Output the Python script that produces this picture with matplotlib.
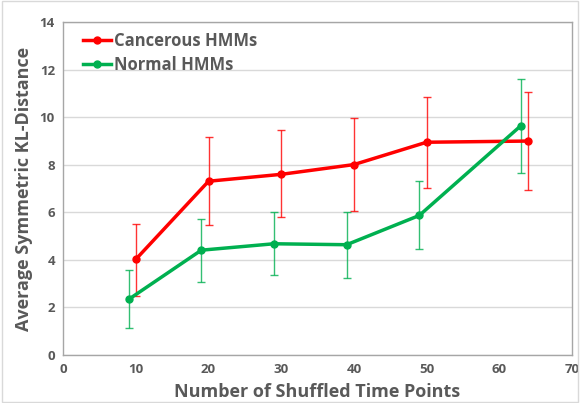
import matplotlib.pyplot as plt
from matplotlib.patches import Rectangle

# 数据
cancer_x = [10, 20, 30, 40, 50, 64]
cancer_y = [4.03, 7.31, 7.6, 8.01, 8.95, 9.0]
cancer_lo = [2.48, 5.45, 5.79, 6.05, 7.03, 6.95]
cancer_hi = [5.53, 9.16, 9.45, 9.97, 10.87, 11.08]

normal_x = [9, 19, 29, 39, 49, 63]
normal_y = [2.34, 4.41, 4.68, 4.64, 5.87, 9.65]
normal_lo = [1.12, 3.07, 3.36, 3.24, 4.44, 7.65]
normal_hi = [3.56, 5.73, 6.0, 6.02, 7.31, 11.63]

x_ticks = [0, 10, 20, 30, 40, 50, 60, 70]
y_ticks = [0, 2, 4, 6, 8, 10, 12, 14]

text_gray = "#595959"
plt.rcParams['font.family'] = ['Open Sans', 'DejaVu Sans']

fig = plt.figure(figsize=(5.8, 4.03), dpi=100)
ax = fig.add_axes([0.109, 0.119, 0.877, 0.826])

def draw(x, y, lo, hi, color, label):
    yerr = [[v - l for v, l in zip(y, lo)], [h - v for v, h in zip(y, hi)]]
    ax.errorbar(x, y, yerr=yerr, fmt="none", ecolor=color, elinewidth=1,
                capsize=3, capthick=1, alpha=0.8, zorder=3)
    ax.plot(x, y, color=color, linewidth=2.5, marker="o", markersize=5,
            label=label, zorder=4)

draw(cancer_x, cancer_y, cancer_lo, cancer_hi, "#ff0000", "Cancerous HMMs")
draw(normal_x, normal_y, normal_lo, normal_hi, "#00b050", "Normal HMMs")

ax.set_xlim(0, 70)
ax.set_ylim(0, 14)
ax.set_xticks(x_ticks)
ax.set_yticks(y_ticks)
ax.tick_params(length=0, colors=text_gray, labelsize=9.5, pad=6)
for lab in ax.get_xticklabels() + ax.get_yticklabels():
    lab.set_fontweight("bold")
ax.grid(axis="y", color="#d9d9d9", linewidth=1)
ax.set_axisbelow(True)
for s in ax.spines.values():
    s.set_color("#a6a6a6")
    s.set_linewidth(1)

ax.set_xlabel("Number of Shuffled Time Points", fontsize=13, fontweight="bold",
              color=text_gray, labelpad=5)
ax.set_ylabel("Average Symmetric KL-Distance", fontsize=13, fontweight="bold",
              color=text_gray, labelpad=5)

leg = ax.legend(loc="upper left", bbox_to_anchor=(0.015, 1.005), frameon=False,
                fontsize=12, handlelength=1.7, handletextpad=0.2,
                borderaxespad=0.3, labelspacing=0.35)
for t in leg.get_texts():
    t.set_color(text_gray)
    t.set_fontweight("bold")

fig.patches.append(Rectangle((0.004, 0.002), 0.992, 0.996, transform=fig.transFigure,
                             fill=False, edgecolor="#d9d9d9", linewidth=1))

fig.savefig("out.png", dpi=100)
